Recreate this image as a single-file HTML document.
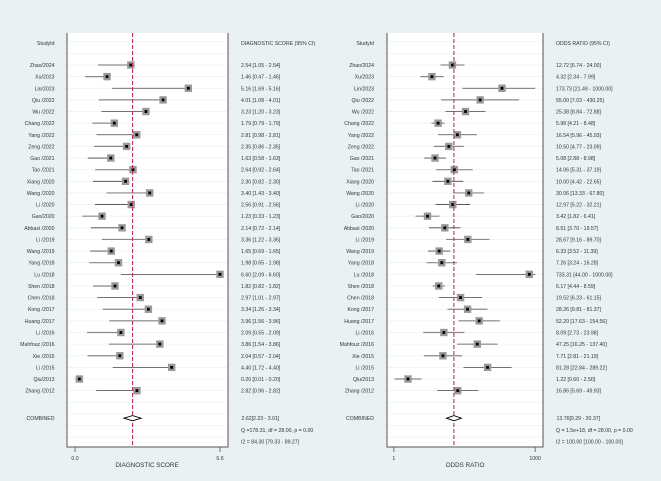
<!DOCTYPE html>
<html><head><meta charset="utf-8"><style>
html,body{margin:0;padding:0;background:#eaf1f3;}
svg{display:block;font-family:"Liberation Sans",sans-serif;}
</style></head><body>
<svg id="chart" width="661" height="481" viewBox="0 0 661 481"></svg>
<script>
const studies=["Zhao/2024","Xu/2023","Lin/2023","Qiu /2022","Wu /2022","Chang /2022","Yang /2022","Zeng /2022","Gao /2021","Tao /2021","Xiang /2020","Wang /2020","Li /2020","Gao/2020","Abbasi /2020","Li /2019","Wang /2019","Yang /2018","Lu /2018","Shen /2018","Chen /2018","Kong /2017","Huang /2017","Li /2016","Mahfouz /2016","Xie /2015","Li /2015","Qiu/2013","Zhang /2012"];
const dsEst=[2.54,1.46,5.16,4.01,3.23,1.79,2.81,2.35,1.63,2.64,2.30,3.40,2.56,1.23,2.14,3.36,1.65,1.98,6.60,1.82,2.97,3.34,3.96,2.09,3.86,2.04,4.40,0.20,2.82];
const dsLo=[1.05,0.47,1.69,1.08,1.20,0.79,0.98,0.86,0.58,0.92,0.82,1.43,0.91,0.33,0.72,1.22,0.69,0.65,2.09,0.82,1.01,1.26,1.56,0.55,1.54,0.57,1.72,0.01,0.96];
const orEst=[12.72,4.32,173.73,55.00,25.38,5.98,16.54,10.50,5.08,14.06,10.00,30.06,12.97,3.42,8.51,28.67,6.33,7.26,733.31,6.17,19.52,28.26,52.20,8.09,47.25,7.71,81.28,1.22,16.86];
const orLo=[6.74,2.34,21.49,7.03,8.84,4.21,5.96,4.77,2.88,5.31,4.42,13.33,5.22,1.82,3.70,9.16,3.52,3.24,44.00,4.44,6.23,9.81,17.63,2.73,16.25,2.81,22.84,0.60,5.69];
const orHi=[24.00,7.99,1000,430.25,72.88,8.48,45.93,23.09,8.98,37.19,22.65,67.80,32.21,6.41,19.57,89.70,11.39,16.28,1000,8.59,61.15,81.37,154.56,23.98,137.40,21.19,289.22,2.50,49.93];
const dsPooled=[2.62,2.23,3.01];
const orPooled=[13.76,9.29,20.37];
const dsTicks=[0.0,6.6];
const dsTickLabels=["0.0","6.6"];
const orTicks=[0.58,1000];
const orTickLabels=["1","1000"];

const svg=document.getElementById('chart');
const NS='http://www.w3.org/2000/svg';
function mk(t,a,txt){const e=document.createElementNS(NS,t);for(const k in a)e.setAttribute(k,a[k]);if(txt!==undefined)e.textContent=txt;svg.appendChild(e);return e;}
const rowY=i=>65+11.63*i;
const f2=v=>v.toFixed(2);

function panel(o){
  const g=mk('rect',{x:o.x0,y:33,width:o.x1-o.x0,height:414,fill:'#fff'});
  
  for(let i=-2;i<33;i++){const y=rowY(i);if(y<36||y>445)continue;
    const l=mk('line',{x1:o.x0,x2:o.x1,y1:y,y2:y,stroke:'#eef2f4','stroke-width':0.8});
    }
  const ax=mk('path',{d:`M${o.x0} 33V447H${o.x1}V33`,fill:'none',stroke:'#555','stroke-width':1});
  
  let t=mk('text',{x:o.lx,y:45,'text-anchor':'end','font-size':5.2,fill:'#333'},'StudyId');
  
  t=mk('text',{x:o.tx,y:45,'font-size':5.2,fill:'#333'},o.header);
  
  const rx=o.sx(o.pooled[0]);
  studies.forEach((s,i)=>{
    const y=rowY(i);
    let n=mk('text',{x:o.lx,y:y+2,'text-anchor':'end','font-size':5.2,fill:'#333'},s);
    
    const lo=o.sx(o.lo[i]),hi=o.sx(o.hi[i]);
    const ci=mk('line',{x1:lo,x2:Math.min(hi,o.clip),y1:y,y2:y,stroke:i%2?'#888':'#444','stroke-width':i%2?1.2:0.8});
    
    if(hi>o.clip){const a=mk('path',{d:`M${o.clip-6} ${y-3}L${o.clip} ${y}L${o.clip-6} ${y+3}`,fill:'none',stroke:'#b04040','stroke-width':0.7});
      }
    const cx=o.sx(o.est[i]);
    const sq=mk('rect',{x:cx-3.7,y:y-3.7,width:7.4,height:7.4,fill:'#999'});
    
    const pt=mk('rect',{x:cx-1.4,y:y-1.4,width:2.8,height:2.8,fill:'#000'});
    
    let v=mk('text',{x:o.tx,y:y+2,'font-size':5.2,fill:'#333'},`${f2(o.est[i])} [${f2(o.lo[i])} - ${f2(o.hi[i])}]`);
    
  });
  const rl=mk('line',{x1:rx,x2:rx,y1:33,y2:447,stroke:'#c0305a','stroke-width':1.1,'stroke-dasharray':'4,2'});
  
  const cy=rowY(30.5)-1.5;
  let c=mk('text',{x:o.lx,y:cy+2,'text-anchor':'end','font-size':5.2,fill:'#333'},'COMBINED');
  
  const dl=o.sx(o.pooled[1]),dh=o.sx(o.pooled[2]);
  const d=mk('path',{d:`M${dl} ${cy}L${rx} ${cy-2.6}L${dh} ${cy}L${rx} ${cy+2.6}Z`,fill:'#fff',stroke:'#000','stroke-width':0.9});
  
  c=mk('text',{x:o.tx+0.5,y:cy+2,'font-size':5.2,fill:'#333'},`${f2(o.pooled[0])}[${f2(o.pooled[1])} - ${f2(o.pooled[2])}]`);
  
  c=mk('text',{x:o.tx,y:cy+14,'font-size':5.2,fill:'#333'},o.q);
  
  c=mk('text',{x:o.tx,y:cy+25.5,'font-size':5.2,fill:'#333'},o.i2);
  
  o.ticks.forEach((tv,k)=>{const x=o.sx(tv);
    const tk=mk('line',{x1:x,x2:x,y1:447,y2:452,stroke:'#555','stroke-width':0.8});
    
    const tl=mk('text',{x:x,y:460,'text-anchor':'middle','font-size':5.2,fill:'#333'},o.tickLabels[k]);
    });
  t=mk('text',{x:o.titleX,y:467,'text-anchor':'middle','font-size':6.3,fill:'#333'},o.title);
  
}
panel({id:'diagnostic-score',x0:67,x1:228,lx:54.5,tx:241,clip:999,header:'DIAGNOSTIC SCORE (95% CI)',
  sx:v=>75+v*145/6.6,est:dsEst,lo:dsLo,hi:dsEst,pooled:dsPooled,ticks:dsTicks,tickLabels:dsTickLabels,
  q:'Q =178.31, df = 28.00, p =  0.00',i2:'I2 = 84.30 [79.33 - 89.27]',title:'DIAGNOSTIC SCORE',titleX:147});
panel({id:'odds-ratio',x0:387,x1:543,lx:374,tx:556,clip:536,header:'ODDS RATIO (95% CI)',
  sx:v=>404.2+43.66*Math.log10(v),est:orEst,lo:orLo,hi:orHi,pooled:orPooled,ticks:orTicks,tickLabels:orTickLabels,
  q:'Q = 1.5e+18, df = 28.00, p =  0.00',i2:'I2 = 100.00 [100.00 - 100.00]',title:'ODDS RATIO',titleX:465});
</script>
</body></html>
